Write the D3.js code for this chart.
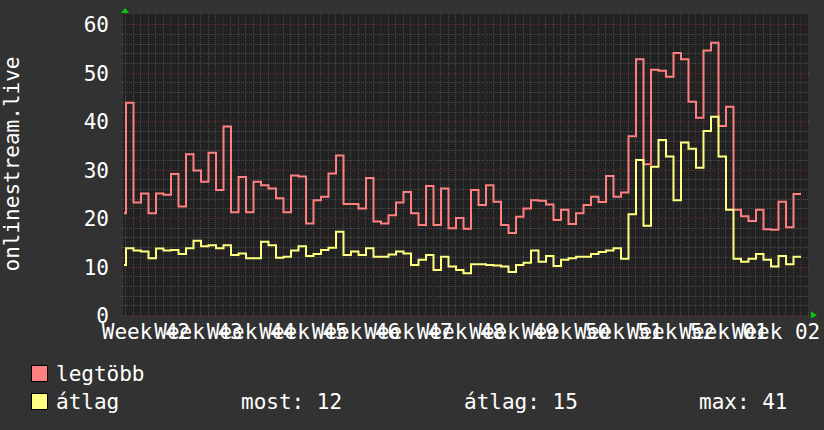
<!DOCTYPE html>
<html><head><meta charset="utf-8">
<script src="https://cdn.jsdelivr.net/npm/d3@7/dist/d3.min.js"></script>
<style>
body{margin:0;background:#323232}
svg{display:block}
text{font-family:"DejaVu Sans Mono",monospace;fill:#ffffff;font-size:21px}
</style>
</head><body>
<svg id="c" width="824" height="430"></svg>
<script>
// ---- data ----
const weekLabels = ["Week 42","Week 43","Week 44","Week 45","Week 46","Week 47","Week 48",
  "Week 49","Week 50","Week 51","Week 52","Week 01","Week 02"];
const yTicks = [0,10,20,30,40,50,60];
// daily values (first entry is the partial day at the left edge)
const maxVals = [21.0,43.8,23.2,25.1,21.0,25.1,24.8,29.1,22.4,33.2,29.8,27.5,33.5,25.8,38.9,21.2,
  28.5,21.2,27.5,26.8,26.1,24.1,21.2,28.8,28.6,18.9,23.7,24.4,29.2,32.9,22.9,22.9,22.0,28.3,19.3,
  18.9,20.6,23.2,25.4,21.0,18.6,26.6,18.6,26.1,17.9,20.0,17.8,25.8,22.7,26.8,23.4,18.6,16.9,20.3,
  22.0,23.7,23.6,22.8,19.6,21.7,18.8,21.0,22.7,24.4,23.3,28.7,24.4,25.3,36.9,52.8,31.1,50.6,50.4,
  49.2,54.1,52.8,44.0,40.7,54.6,56.2,39.0,43.0,21.7,20.4,19.4,21.7,17.7,17.6,23.4,18.1,25.0];
const avgVals = [10.3,13.8,13.3,13.1,11.7,13.7,13.3,13.4,12.6,13.8,15.3,14.2,14.4,13.8,14.4,12.4,
  12.7,11.7,11.7,15.1,14.4,11.8,12.0,13.3,14.2,12.2,12.6,13.4,13.9,17.2,12.4,13.1,12.4,13.8,12.0,
  12.0,12.5,13.1,12.7,10.3,11.4,12.4,9.3,12.0,10.0,9.3,8.6,10.5,10.5,10.3,10.2,10.0,8.9,10.3,
  10.8,13.3,11.0,12.2,10.1,11.4,11.7,12.0,12.0,12.6,13.0,13.3,13.8,11.6,20.8,32.0,18.4,30.6,36.1,
  32.7,23.7,35.6,34.3,30.4,38.0,40.9,32.7,21.7,11.6,11.0,11.6,12.6,11.4,10.0,12.2,10.5,12.0];
const seriesNames = ["legtöbb","átlag"];
const seriesColors = ["#ff8080","#ffff80"];
const statLabels = ["most: 12","átlag: 15","max: 41"];
const yTitle = "onlinestream.live";
const firstStepDay = -6.867;   // days relative to Monday of Week 42
const domainDays = [-6.267, 85.2];

// ---- layout ----
const svg = d3.select("#c");
const L = 123, R = 809, T = 14, B = 316;
const x = d3.scaleLinear().domain(domainDays).range([L, R]);
const y = d3.scaleLinear().domain([0, 60]).range([315, 24.3]);

svg.append("rect").attr("width",824).attr("height",430).attr("fill","#323232");
svg.append("rect").attr("x",L).attr("y",T).attr("width",R-L).attr("height",B-T).attr("fill","#222222");

const g = svg.append("g").attr("shape-rendering","crispEdges");
// minor grid
const minorDays = d3.range(Math.ceil(domainDays[0]), Math.floor(domainDays[1])+1).filter(d => d % 7 !== 0);
g.selectAll(".vmin").data(minorDays).join("line")
  .attr("x1", d => Math.round(x(d))+0.5).attr("x2", d => Math.round(x(d))+0.5)
  .attr("y1", T).attr("y2", 317)
  .attr("stroke","#4a4a4a").attr("stroke-dasharray","1,1");
const minorVals = d3.range(0, 61, 2).filter(v => v % 10 !== 0);
g.selectAll(".hmin").data(minorVals).join("line")
  .attr("x1", 121).attr("x2", R)
  .attr("y1", v => Math.round(y(v))+0.5).attr("y2", v => Math.round(y(v))+0.5)
  .attr("stroke","#4a4a4a").attr("stroke-dasharray","1,1");
// major grid
const majorDays = d3.range(0, 85, 7);
g.selectAll(".vmaj").data(majorDays).join("line")
  .attr("x1", d => Math.round(x(d))+0.5).attr("x2", d => Math.round(x(d))+0.5)
  .attr("y1", T).attr("y2", 318)
  .attr("stroke","#5e2c2c").attr("stroke-dasharray","1,1");
g.selectAll(".hmaj").data(yTicks).join("line")
  .attr("x1", 120).attr("x2", R)
  .attr("y1", v => Math.round(y(v))+0.5).attr("y2", v => Math.round(y(v))+0.5)
  .attr("stroke","#5e2c2c").attr("stroke-dasharray","1,1");

// clip
svg.append("clipPath").attr("id","pc").append("rect")
  .attr("x",L+1).attr("y",T).attr("width",R-L-1).attr("height",B-T);

function stepData(vals){
  const pts = vals.map((v,i)=>[firstStepDay+i, v]);
  pts.push([firstStepDay+vals.length, vals[vals.length-1]]);
  return pts;
}
const line = d3.line().x(d=>x(d[0])).y(d=>y(d[1])).curve(d3.curveStepAfter);
[maxVals, avgVals].forEach((vals, k) => {
  svg.append("path").attr("d", line(stepData(vals)))
    .attr("fill","none").attr("stroke", seriesColors[k]).attr("stroke-width",2)
    .attr("clip-path","url(#pc)");
});

// arrows
svg.append("path").attr("d",`M${L-2},13 L${L+2},8 L${L+6},13 Z`).attr("fill","#00cc00");
svg.append("path").attr("d",`M${R+2},311.5 L${R+8},315 L${R+2},318.5 Z`).attr("fill","#00cc00");

// y tick labels
svg.selectAll(".yl").data(yTicks).join("text")
  .attr("x",109).attr("y", v => y(v)+8).attr("text-anchor","end").text(v => v);
// x labels
svg.selectAll(".xl").data(weekLabels).join("text")
  .attr("x",(d,i)=> x(majorDays[i]) - 24).attr("y",339).attr("text-anchor","middle").text(d=>d);
// y title
svg.append("text").attr("transform","translate(19,164) rotate(-90)")
  .attr("text-anchor","middle").text(yTitle);

// legend
const legY = [381, 409];
seriesNames.forEach((n,k)=>{
  svg.append("rect").attr("x",31.5).attr("y",legY[k]-15.5).attr("width",16).attr("height",16)
    .attr("fill",seriesColors[k]).attr("stroke","#000").attr("stroke-width",1);
  svg.append("text").attr("x",56).attr("y",legY[k]).text(n);
});
const statX = [241, 464, 699];
statLabels.forEach((s,k)=>{
  svg.append("text").attr("x",statX[k]).attr("y",legY[1]).text(s);
});
</script>
</body></html>
